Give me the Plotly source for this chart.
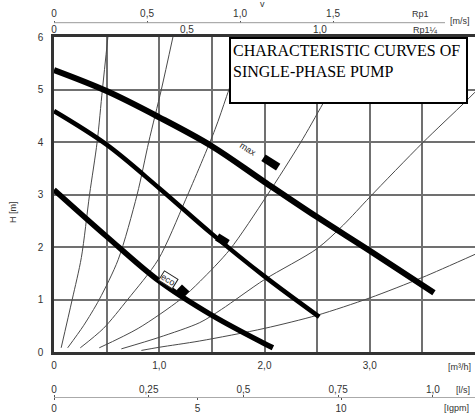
import plotly.graph_objects as go

# ---------------- data ----------------
# pump curves: flow Q [m3/h] -> head H [m]
q_max = [0, 0.5, 1.0, 1.5, 2.0, 2.5, 3.0, 3.61]
h_max = [5.37, 4.97, 4.47, 3.92, 3.24, 2.57, 1.93, 1.13]

q_mid = [0, 0.5, 1.0, 1.5, 2.0, 2.52]
h_mid = [4.59, 3.95, 3.12, 2.25, 1.44, 0.67]

q_eco = [0, 0.5, 1.0, 1.5, 2.0, 2.08]
h_eco = [3.09, 2.20, 1.35, 0.70, 0.16, 0.08]

# thin system (pipe) curves
sys_q = [
    [0.068, 0.173, 0.26, 0.338, 0.41, 0.46, 0.512],
    [0.13, 0.28, 0.43, 0.61, 0.79, 0.90, 1.02, 1.13],
    [0.25, 0.47, 0.70, 0.99, 1.25, 1.53, 1.64, 1.83],
    [0.43, 0.80, 1.20, 1.39, 1.67, 2.02, 2.34, 2.56, 2.90],
    [0.64, 1.00, 1.385, 1.59, 2.00, 2.50, 2.75, 3.00, 3.50, 3.90, 4.00],
    [0.83, 1.00, 1.385, 2.00, 2.50, 3.00, 3.50, 4.00],
]
sys_h = [
    [0.08, 1.0, 1.8, 3.0, 4.0, 5.0, 6.0],
    [0.08, 0.5, 1.0, 1.76, 3.0, 4.0, 5.0, 6.0],
    [0.08, 0.45, 1.0, 1.76, 2.9, 4.24, 4.87, 6.0],
    [0.08, 0.45, 1.0, 1.35, 1.95, 2.97, 3.98, 4.75, 6.0],
    [0.06, 0.28, 0.56, 0.81, 1.38, 1.97, 2.42, 2.95, 3.98, 4.75, 4.95],
    [0.03, 0.09, 0.21, 0.45, 0.70, 1.03, 1.42, 1.86],
]

# speed marks (short arrows) on the curves
mark_max_q = [1.99, 2.13]
mark_max_h = [3.70, 3.52]
mark_mid_q = [1.55, 1.65]
mark_mid_h = [2.19, 2.07]
mark_eco_q = [1.19, 1.26]
mark_eco_h = [1.23, 1.10]

# axis ticks
x_ticks = [0, 0.5, 1.0, 1.5, 2.0, 2.5, 3.0, 3.5]
x_text = ["0", "", "1,0", "", "2,0", "", "3,0", ""]
y_ticks = [0, 1, 2, 3, 4, 5, 6]
ls_ticks = [0, 0.25, 0.5, 0.75, 1.0]
ls_text = ["0", "0,25", "0,5", "0,75", "1,0"]
gpm_ticks = [0, 5, 10]
gpm_text = ["0", "5", "10"]
ms1_ticks = [0, 0.5, 1.0, 1.5]
ms1_text = ["0", "0,5", "1,0", "1,5"]
ms2_ticks = [0, 0.5, 1.0]
ms2_text = ["0", "0,5", "1,0"]

# unit conversions for secondary scales
Q_MAX = 4.0
LS_PER_M3H = 1 / 3.6
GPM_PER_M3H = 1 / 0.27277
MS1_RANGE = 2.263
MS2_RANGE = 1.583

# ---------------- figure ----------------
W, H = 475, 416
ML = 54


def px(x):
    return (x - ML) / (W - ML)


def py(y):
    return 1 - y / H


fig = go.Figure()

for qs, hs in zip(sys_q, sys_h):
    fig.add_trace(go.Scatter(x=qs, y=hs, mode="lines",
                             line=dict(color="#4a4a4a", width=1, shape="spline", smoothing=0.8),
                             hoverinfo="skip"))

fig.add_trace(go.Scatter(x=q_max, y=h_max, mode="lines",
                         line=dict(color="black", width=6, shape="spline", smoothing=1.0)))
fig.add_trace(go.Scatter(x=q_mid, y=h_mid, mode="lines",
                         line=dict(color="black", width=4.5, shape="spline", smoothing=1.0)))
fig.add_trace(go.Scatter(x=q_eco, y=h_eco, mode="lines",
                         line=dict(color="black", width=5.5, shape="spline", smoothing=1.0)))

for mq, mh in [(mark_max_q, mark_max_h), (mark_mid_q, mark_mid_h), (mark_eco_q, mark_eco_h)]:
    fig.add_trace(go.Scatter(x=mq, y=mh, mode="lines", line=dict(color="black", width=8)))

# dummy traces to attach the secondary axes
for ax in ["x2", "x3", "x4", "x5"]:
    fig.add_trace(go.Scatter(x=[0], y=[0], xaxis=ax, yaxis="y", mode="markers",
                             marker=dict(opacity=0), hoverinfo="skip"))

tick_font = dict(family="Liberation Sans, Arial, sans-serif", size=10, color="#333")
y0d, y1d = py(352), py(37)

fig.update_layout(
    width=W, height=H,
    margin=dict(l=ML, r=0, t=0, b=0, autoexpand=False),
    paper_bgcolor="white", plot_bgcolor="white",
    showlegend=False,
    xaxis=dict(range=[0, Q_MAX], domain=[0, 1], tickvals=x_ticks, ticktext=x_text,
               showgrid=True, gridcolor="#707070", gridwidth=1.6, automargin=False,
               showline=True, linecolor="#333", linewidth=2.5, mirror=True,
               ticks="", ticklabelstandoff=2, tickfont=tick_font, zeroline=False),
    yaxis=dict(range=[0, 6], domain=[y0d, y1d], tickvals=y_ticks, automargin=False,
               showgrid=True, gridcolor="#707070", gridwidth=1.6,
               showline=True, linecolor="#333", linewidth=2.5,
               ticks="", ticklabelstandoff=6, tickfont=tick_font, zeroline=False),
    xaxis2=dict(overlaying="x", anchor="free", position=py(397), side="top", automargin=False,
                range=[0, Q_MAX * LS_PER_M3H], tickvals=ls_ticks, ticktext=ls_text,
                showgrid=False, zeroline=False, showline=True, linecolor="#aaa", linewidth=1,
                ticks="outside", ticklen=2, tickcolor="#555", tickfont=tick_font,
                ticklabelstandoff=-2),
    xaxis3=dict(overlaying="x", anchor="free", position=py(397), side="bottom", automargin=False,
                range=[0, Q_MAX * GPM_PER_M3H], tickvals=gpm_ticks, ticktext=gpm_text,
                showgrid=False, zeroline=False, showline=False,
                ticks="outside", ticklen=2, tickcolor="#555", tickfont=tick_font),
    xaxis4=dict(overlaying="x", anchor="free", position=py(22.7), side="top", automargin=False,
                range=[0, MS1_RANGE], tickvals=ms1_ticks, ticktext=ms1_text,
                showgrid=False, zeroline=False, showline=False,
                ticks="outside", ticklen=2, tickcolor="#555", tickfont=tick_font),
    xaxis5=dict(overlaying="x", anchor="free", position=py(22.7), side="bottom", automargin=False,
                range=[0, MS2_RANGE], tickvals=ms2_ticks, ticktext=ms2_text,
                showgrid=False, zeroline=False, showline=False,
                ticks="", tickfont=tick_font, ticklabelstandoff=-1),
)

# top velocity axis line (ends before the unit label)
fig.add_shape(type="line", xref="paper", yref="paper", x0=0, x1=px(445),
              y0=py(22.7), y1=py(22.7), line=dict(color="#999", width=1))

# title box
fig.add_shape(type="rect", xref="paper", yref="paper", layer="above",
              x0=px(230), x1=px(467), y0=py(103), y1=py(38),
              fillcolor="white", line=dict(color="black", width=2))
fig.add_annotation(xref="paper", yref="paper", x=px(231), y=py(40), xanchor="left", yanchor="top",
                   align="left", showarrow=False,
                   text="CHARACTERISTIC CURVES OF<br>SINGLE-PHASE PUMP",
                   font=dict(family="Liberation Serif, Times New Roman, serif", size=16, color="black"))

small = dict(family="Liberation Sans, Arial, sans-serif", size=9, color="#333")
ann = [
    ("[m³/h]", 459, 367, 0),
    ("[l/s]", 463, 390, 0),
    ("[Igpm]", 456, 408, 0),
    ("[m/s]", 460, 21, 0),
    ("Rp1", 420, 14, 0),
    ("Rp1¼", 425, 30, 0),
    ("v", 262, 4, 0),
    ("H [m]", 13, 212, -90),
]
for t, x, y, a in ann:
    fig.add_annotation(xref="paper", yref="paper", x=px(x), y=py(y), text=t, showarrow=False,
                       xanchor="center", yanchor="middle", textangle=a, font=small)

fig.add_annotation(x=1.84, y=3.86, text="max", showarrow=False, textangle=32,
                   font=dict(family="Liberation Sans, Arial, sans-serif", size=9, color="#222"))
fig.add_annotation(x=1.09, y=1.38, text="eco", showarrow=False, textangle=32,
                   bgcolor="white", bordercolor="#222", borderwidth=1, borderpad=0,
                   font=dict(family="Liberation Sans, Arial, sans-serif", size=9, color="#222"))

fig.write_html("out.html", config={"displayModeBar": False},
               post_script="document.body.style.margin='0';document.body.style.overflow='hidden';")
